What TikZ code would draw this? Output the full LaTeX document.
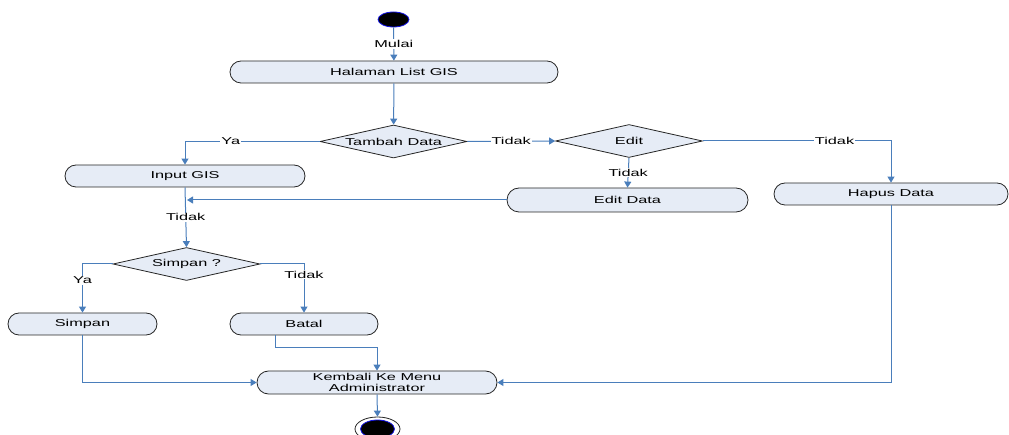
\documentclass[tikz,border=0pt]{standalone}
\usepackage{fontspec}
\setmainfont{Liberation Sans}[FakeStretch=1.63]
\usetikzlibrary{shapes.geometric,shapes.misc,arrows.meta}
\definecolor{lineblue}{RGB}{74,126,187}
\definecolor{boxfill}{RGB}{230,236,246}
\definecolor{dotblue}{RGB}{20,20,230}
\begin{document}
\begin{tikzpicture}[x=1pt, y=-1pt,
  font=\fontsize{10}{10.5}\selectfont,
  act/.style={rounded rectangle, draw=black!85, fill=boxfill, line width=0.8pt, minimum height=22pt, inner sep=0pt, align=center},
  dec/.style={diamond, draw=black!85, fill=boxfill, line width=0.8pt, aspect=4.45, minimum width=147pt, minimum height=33pt, inner sep=0pt},
  flow/.style={draw=lineblue, line width=1pt, -{Triangle[width=7pt,length=6pt]}},
  lbl/.style={fill=white, inner sep=1pt}]
\useasboundingbox (0,0) rectangle (1009,435);
\node[ellipse, fill=black, draw=dotblue, line width=0.8pt, minimum width=31pt, minimum height=15pt, inner sep=0pt] (mulai) at (393.5,19.5){};
\node[act, minimum width=328pt] (halaman) at (394,72){Halaman List GIS};
\node[dec] (tambah) at (393.5,141.5){Tambah Data};
\node[dec] (edit) at (629,141){Edit};
\node[act, minimum width=240pt] (input) at (185,176){Input GIS};
\node[act, minimum width=241pt, minimum height=24pt] (editdata) at (627.5,200){Edit Data};
\node[act, minimum width=234pt] (hapus) at (891,194){Hapus Data};
\node[dec] (simpanq) at (186.5,264){Simpan ?};
\node[act, minimum width=149pt] (simpan) at (82.5,324){Simpan};
\node[act, minimum width=148pt] (batal) at (304,324){Batal};
\node[act, minimum width=240pt, minimum height=23pt] (kembali) at (377,382.5){Kembali Ke Menu\\Administrator};
\node[ellipse, fill=white, draw=black!85, line width=0.8pt, minimum width=45pt, minimum height=24pt, inner sep=0pt] (selesai) at (377.5,429){};
\node[ellipse, fill=black, draw=dotblue, line width=0.8pt, minimum width=34pt, minimum height=18pt, inner sep=0pt] (selesaiin) at (377.5,429){};
\coordinate (join) at (187,200);
\draw[flow](mulai) -- node[lbl] (l1) {Mulai} (halaman);
\draw[flow](halaman) -- (tambah);
\draw[flow](tambah.west) -| node[lbl, pos=0.33] (l2) {Ya} (input.north);
\draw[flow](tambah.east) -- node[lbl] (l3) {Tidak} (edit.west);
\draw[flow](edit.south) -- node[lbl] (l4) {Tidak} (editdata.north);
\draw[flow](edit.east) -| node[lbl, pos=0.35] (l5) {Tidak} (hapus.north);
\draw[flow](editdata.west) -- (join);
\draw[flow](input.south) -- node[lbl] (l6) {Tidak} (simpanq.north);
\draw[flow](simpanq.west) -| node[lbl, pos=0.665] (l7) {Ya} (simpan.north);
\draw[flow](simpanq.east) -| node[lbl, pos=0.61] (l8) {Tidak} (batal.north);
\draw[flow](simpan.south) |- (kembali.west);
\draw[flow]([xshift=-29pt]batal.south) -- ++(0,12) -| (kembali.north);
\draw[flow](hapus.south) |- (kembali.east);
\draw[flow](kembali.south) -- (selesai.north);
\end{tikzpicture}
\end{document}
